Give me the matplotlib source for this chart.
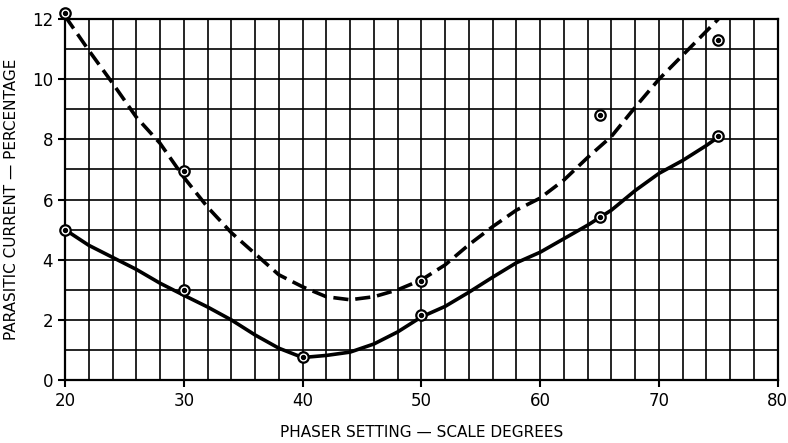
import matplotlib.pyplot as plt
from matplotlib.ticker import MultipleLocator

# pontos medidos (marcadores)
fase_medida = [20, 30, 40, 50, 65, 75]
corrente_solida = [5.0, 3.0, 0.78, 2.15, 5.42, 8.1]
fase_tracejada = [20, 30, 50, 65, 75]
corrente_tracejada = [12.2, 6.95, 3.3, 8.8, 11.3]

# curvas desenhadas a mão
curva_solida_x = [20, 22, 24, 26, 28, 30, 32, 34, 36, 38, 40, 42, 44, 46, 48, 50,
                  52, 54, 56, 58, 60, 62, 64, 66, 68, 70, 72, 74, 75]
curva_solida_y = [5.0, 4.48, 4.08, 3.68, 3.22, 2.82, 2.43, 2.0, 1.5, 1.06, 0.75, 0.82, 0.93,
                  1.2, 1.6, 2.1, 2.45, 2.92, 3.42, 3.9, 4.25, 4.7, 5.15, 5.65, 6.3, 6.87,
                  7.3, 7.8, 8.08]
curva_tracejada_x = [20, 22, 24, 26, 28, 30, 32, 34, 36, 38, 40, 42, 44, 46, 48, 50,
                     52, 54, 56, 58, 60, 62, 64, 66, 68, 70, 72, 74, 75]
curva_tracejada_y = [12.1, 10.96, 9.87, 8.74, 7.87, 6.74, 5.75, 4.9, 4.2, 3.5, 3.1, 2.77,
                     2.67, 2.77, 3.0, 3.33, 3.83, 4.5, 5.1, 5.65, 6.05, 6.65, 7.4, 8.1,
                     9.07, 10.0, 10.8, 11.6, 12.0]

fig = plt.figure(figsize=(7.88, 4.43), dpi=100)
ax = fig.add_axes([0.0825, 0.142, 0.9045, 0.815])

# grade
ax.set_xlim(20, 80)
ax.set_ylim(0, 12)
ax.xaxis.set_major_locator(MultipleLocator(10))
ax.xaxis.set_minor_locator(MultipleLocator(2))
ax.yaxis.set_major_locator(MultipleLocator(2))
ax.yaxis.set_minor_locator(MultipleLocator(1))
ax.grid(True, which='both', color='black', linewidth=1.2)
ax.tick_params(which='major', length=5, width=1.5, labelsize=12, direction='out')
ax.tick_params(which='minor', length=0)
for s in ax.spines.values():
    s.set_linewidth(1.6)

# curvas
ax.plot(curva_solida_x, curva_solida_y, color='black', linewidth=2.6, zorder=3)
ax.plot(curva_tracejada_x, curva_tracejada_y, color='black', linewidth=2.6,
        dashes=(4.2, 1.9), zorder=3)

# marcadores com ponto central
for xs, ys in [(fase_medida, corrente_solida), (fase_tracejada, corrente_tracejada)]:
    ax.plot(xs, ys, linestyle='none', marker='o', markersize=7.5, markerfacecolor='white',
            markeredgecolor='black', markeredgewidth=1.6, zorder=4, clip_on=False)
    ax.plot(xs, ys, linestyle='none', marker='o', markersize=2.8, color='black',
            zorder=5, clip_on=False)

ax.set_xlabel('PHASER SETTING — SCALE DEGREES', fontsize=11, labelpad=11)
ax.set_ylabel('PARASITIC CURRENT — PERCENTAGE', fontsize=11, labelpad=9)

fig.savefig('out.png', dpi=100)
